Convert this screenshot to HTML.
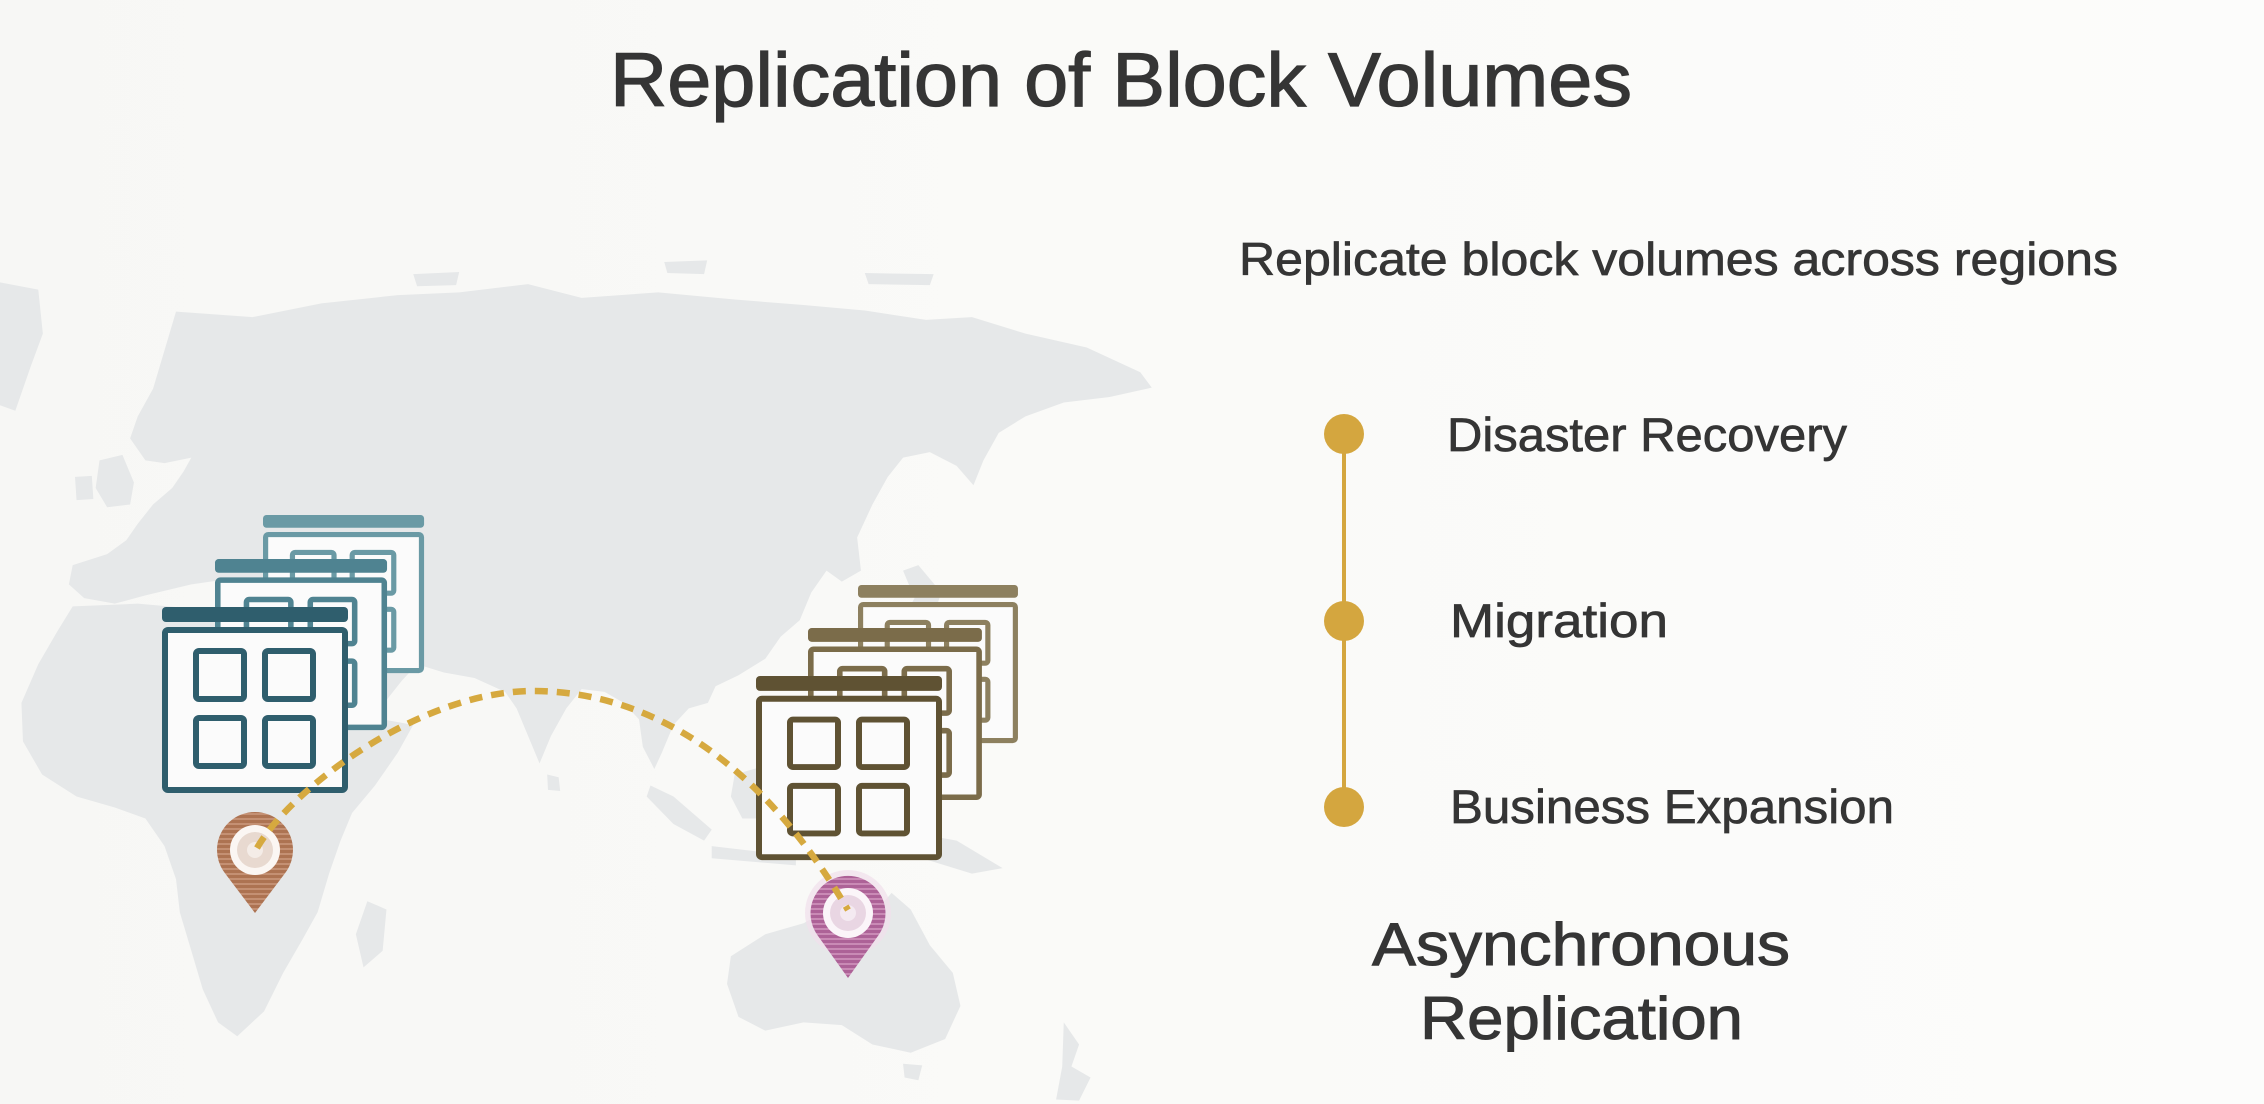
<!DOCTYPE html>
<html>
<head>
<meta charset="utf-8">
<style>
  html,body{margin:0;padding:0;}
  body{width:2264px;height:1104px;overflow:hidden;background:#f9f9f7;}
  svg{display:block;}
  text{font-family:"Liberation Sans", Arial, sans-serif;fill:#353535;stroke:#353535;stroke-width:0.7;}
</style>
</head>
<body>
<svg width="2264" height="1104" viewBox="0 0 2264 1104" xmlns="http://www.w3.org/2000/svg">
  <defs>
    <linearGradient id="bg" x1="0" y1="0" x2="1" y2="0">
      <stop offset="0" stop-color="#f7f7f5"/>
      <stop offset="0.5" stop-color="#fafaf8"/>
      <stop offset="1" stop-color="#fcfcfb"/>
    </linearGradient>
    <pattern id="stripeL" width="10" height="5" patternUnits="userSpaceOnUse">
      <rect width="10" height="5" fill="#ad7352"/>
      <rect y="3" width="10" height="2" fill="#c49073"/>
    </pattern>
    <pattern id="stripeR" width="10" height="5" patternUnits="userSpaceOnUse">
      <rect width="10" height="5" fill="#ad6297"/>
      <rect y="3" width="10" height="2" fill="#c98ab5"/>
    </pattern>
    <g id="win">
      <rect x="0" y="0" width="186" height="15" rx="4" fill="currentColor"/>
      <rect x="3" y="23" width="180" height="160" rx="3" fill="#fbfbfb" stroke="currentColor" stroke-width="6"/>
      <rect x="34" y="44" width="48" height="48" rx="3" fill="none" stroke="currentColor" stroke-width="6"/>
      <rect x="103" y="44" width="48" height="48" rx="3" fill="none" stroke="currentColor" stroke-width="6"/>
      <rect x="34" y="111" width="48" height="48" rx="3" fill="none" stroke="currentColor" stroke-width="6"/>
      <rect x="103" y="111" width="48" height="48" rx="3" fill="none" stroke="currentColor" stroke-width="6"/>
    </g>
  </defs>

  <rect width="2264" height="1104" fill="url(#bg)"/>

  <!-- world map -->
  <g transform="translate(0,240) scale(0.7653 0.5510)" fill="#e6e8e9">
    <path d="M0,77 L50,90 L56,170 L40,230 L20,310 L0,300 Z"/>
    <path d="M868,40 L924,37 L920,62 L872,60 Z"/>
    <path d="M1130,60 L1220,62 L1215,82 L1135,80 Z"/>
    <path d="M540,62 L600,58 L596,82 L545,84 Z"/>
    <path d="M230,130 L330,140 L420,115 L520,100 L600,95 L690,80 L760,105 L860,95 L960,108 L1050,118 L1130,128 L1210,145 L1270,140 L1340,170 L1420,195 L1490,240 L1505,268 L1450,285 L1390,295 L1340,320 L1305,350 L1285,400 L1272,445 L1250,410 L1215,385 L1180,395 L1160,430 L1140,480 L1120,540 L1125,600 L1100,620 L1080,600 L1060,640 L1045,690 L1020,720 L1000,760 L965,790 L935,810 L925,840 L900,850 L880,880 L865,930 L855,960 L840,920 L835,870 L815,840 L790,820 L760,815 L740,850 L720,900 L705,950 L690,900 L675,850 L660,820 L620,795 L580,785 L545,770 L525,800 L505,835 L485,860 L470,845 L450,810 L430,770 L415,735 L400,705 L420,690 L450,670 L440,650 L400,645 L370,655 L345,660 L320,630 L300,615 L275,620 L250,625 L220,635 L190,645 L150,660 L110,650 L90,625 L95,590 L140,570 L165,545 L180,515 L200,480 L225,450 L240,420 L250,395 L215,405 L190,400 L170,360 L180,320 L200,270 L215,200 Z"/>
    <path d="M130,400 L160,390 L175,440 L170,480 L140,485 L125,450 Z"/>
    <path d="M98,430 L120,428 L122,470 L100,472 Z"/>
    <path d="M95,665 L180,660 L260,670 L330,690 L395,705 L420,735 L440,785 L470,840 L500,870 L540,880 L520,930 L490,990 L460,1040 L445,1090 L430,1150 L415,1220 L395,1270 L370,1330 L345,1400 L310,1445 L285,1420 L265,1360 L250,1290 L235,1220 L230,1160 L215,1100 L190,1050 L150,1030 L100,1010 L55,970 L30,910 L28,840 L50,770 L75,710 Z"/>
    <path d="M480,1200 L505,1215 L500,1290 L475,1320 L465,1260 Z"/>
    <path d="M715,970 L730,975 L732,1000 L716,998 Z"/>
    <path d="M1180,600 L1200,590 L1230,640 L1215,700 L1180,740 L1150,760 L1140,745 L1175,700 L1195,650 Z"/>
    <path d="M1058,775 L1072,778 L1070,805 L1056,800 Z"/>
    <path d="M1060,840 L1090,850 L1095,920 L1070,920 Z"/>
    <path d="M850,990 L880,1010 L930,1070 L920,1090 L880,1060 L845,1010 Z"/>
    <path d="M960,970 L1010,950 L1030,1000 L1010,1050 L970,1050 L955,1010 Z"/>
    <path d="M930,1100 L1040,1118 L1040,1135 L930,1122 Z"/>
    <path d="M1040,990 L1070,990 L1060,1050 L1045,1040 Z"/>
    <path d="M1170,1070 L1250,1090 L1310,1140 L1270,1150 L1200,1120 L1170,1100 Z"/>
    <path d="M955,1300 L1000,1260 L1050,1240 L1095,1205 L1140,1225 L1165,1185 L1190,1215 L1215,1280 L1245,1330 L1255,1390 L1235,1450 L1190,1475 L1140,1460 L1100,1425 L1050,1420 L1000,1435 L965,1410 L950,1350 Z"/>
    <path d="M1180,1495 L1205,1498 L1200,1525 L1182,1520 Z"/>
    <path d="M1390,1420 L1410,1460 L1400,1500 L1425,1520 L1410,1562 L1380,1560 L1388,1500 Z"/>
  </g>

  <!-- Left window stack (teal) -->
  <use href="#win" transform="translate(263,515) scale(0.866 0.85)" style="color:#6a9aa5"/>
  <use href="#win" transform="translate(215,559) scale(0.925 0.92)" style="color:#4f8391"/>
  <use href="#win" transform="translate(162,607)" style="color:#2f5e6d"/>

  <!-- Right window stack (olive/brown) -->
  <use href="#win" transform="translate(858,585) scale(0.86 0.85)" style="color:#8d805f"/>
  <use href="#win" transform="translate(808,628) scale(0.935 0.925)" style="color:#7b6c4a"/>
  <use href="#win" transform="translate(756,676) scale(1 0.99)" style="color:#5f5233"/>

  <!-- Left pin -->
  <g>
    <path d="M224.7,872.9 A38 38 0 1 1 285.3,872.9 L255,913 Z" fill="url(#stripeL)"/>
    <circle cx="255" cy="850" r="25" fill="#fbf6f3"/>
    <circle cx="255" cy="850" r="18" fill="#e8d9d0"/>
    <circle cx="255" cy="850" r="8" fill="#f4ece7"/>
  </g>

  <!-- Right pin -->
  <g>
    <circle cx="848" cy="913" r="43" fill="#f1dfeb" opacity="0.7"/>
    <path d="M817.7,935.5 A37.5 37.5 0 1 1 878.3,935.5 L848,978 Z" fill="url(#stripeR)"/>
    <circle cx="848" cy="913" r="25" fill="#fbf5f9"/>
    <circle cx="848" cy="913" r="18" fill="#e9d6e3"/>
    <circle cx="848" cy="913" r="8" fill="#f4eaf1"/>
  </g>

  <!-- Dashed connector -->
  <path d="M257,848 C290,790 420,690 535,691 C650,692 760,760 848,910" fill="none" stroke="#d6a93f" stroke-width="6.5" stroke-dasharray="13 9"/>

  <!-- Title -->
  <text x="610" y="106" font-size="76" style="stroke-width:1.2" textLength="1022" lengthAdjust="spacingAndGlyphs">Replication of Block Volumes</text>

  <!-- Subtitle -->
  <text x="1239" y="275" font-size="46" textLength="879" lengthAdjust="spacingAndGlyphs">Replicate block volumes across regions</text>

  <!-- Timeline -->
  <line x1="1344" y1="434" x2="1344" y2="807" stroke="#d4a63f" stroke-width="4"/>
  <circle cx="1344" cy="434" r="20" fill="#d4a63f"/>
  <circle cx="1344" cy="621" r="20" fill="#d4a63f"/>
  <circle cx="1344" cy="807" r="20" fill="#d4a63f"/>

  <text x="1447" y="451" font-size="47" textLength="400" lengthAdjust="spacingAndGlyphs">Disaster Recovery</text>
  <text x="1450" y="637" font-size="47" textLength="218" lengthAdjust="spacingAndGlyphs">Migration</text>
  <text x="1450" y="823" font-size="47" textLength="444" lengthAdjust="spacingAndGlyphs">Business Expansion</text>

  <!-- Bottom label -->
  <text x="1372" y="965" font-size="60" style="stroke-width:1" textLength="418" lengthAdjust="spacingAndGlyphs">Asynchronous</text>
  <text x="1420" y="1039" font-size="60" style="stroke-width:1" textLength="323" lengthAdjust="spacingAndGlyphs">Replication</text>
</svg>
</body>
</html>
